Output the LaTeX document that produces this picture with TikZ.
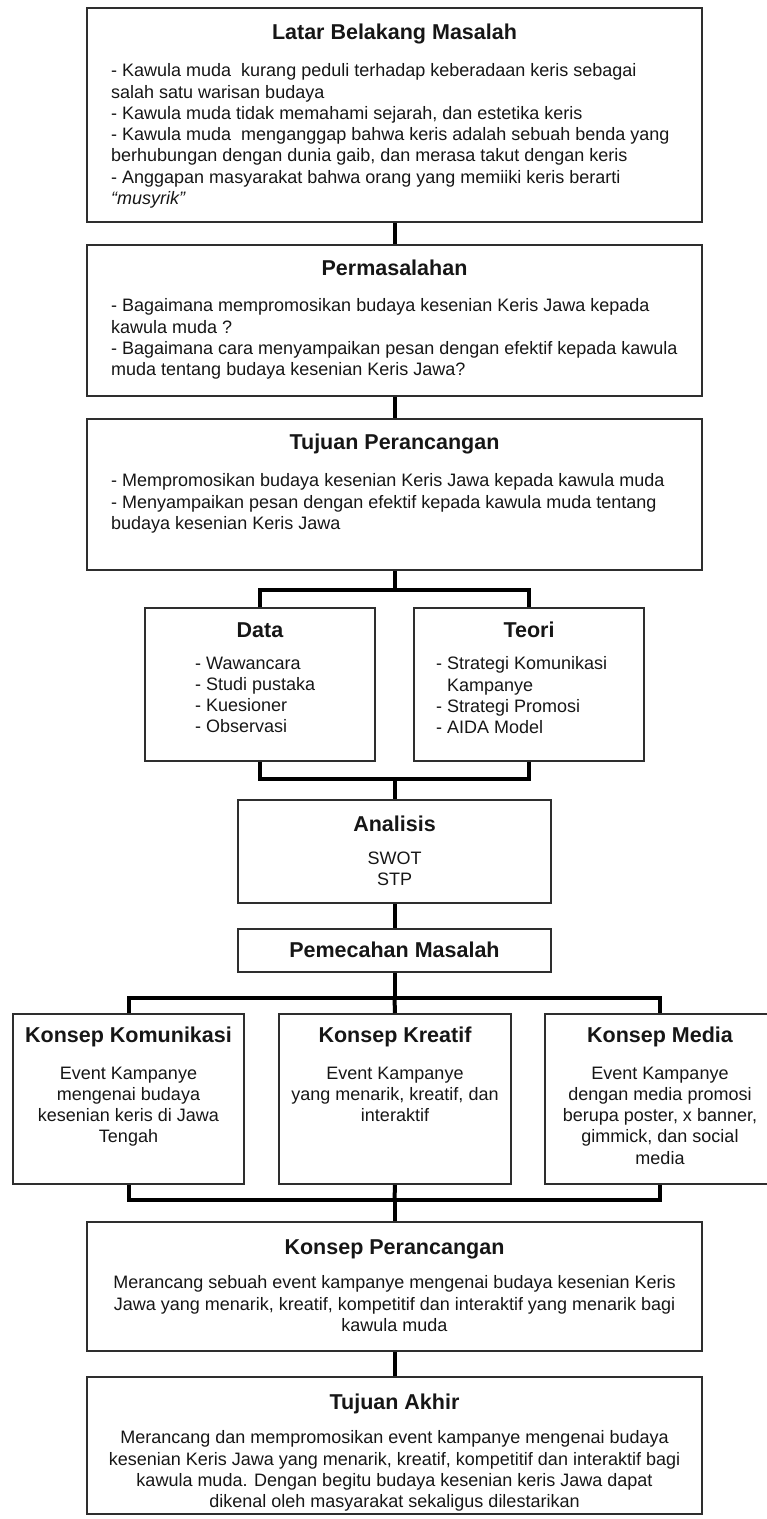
\documentclass[tikz,border=0pt]{standalone}
\usepackage{fontspec}
\setmainfont{Liberation Sans}
\usetikzlibrary{positioning,calc}

\definecolor{framegray}{HTML}{2E2E2E}
\definecolor{inkblack}{HTML}{161616}

\tikzset{
  panel/.style={draw=framegray, line width=2bp, inner sep=0pt, anchor=north},
  heading/.style={font=\fontsize{21.5bp}{24bp}\selectfont\bfseries, text=inkblack, inner sep=0pt, anchor=base},
  bodytext/.style={font=\fontsize{18bp}{21.3bp}\selectfont, text=inkblack, inner sep=0pt, align=left, anchor=north west},
  bodymid/.style={bodytext, align=center, anchor=north},
  link/.style={draw=black, line width=4bp, line join=miter}
}

\begin{document}
\begin{tikzpicture}[x=1bp, y=-1bp]
\useasboundingbox (0,0) rectangle (766,1519);

% Main column boxes
\node[panel, minimum width=615bp, minimum height=214bp] (latar) at (394.5,7) {};
\node[panel, minimum width=615bp, minimum height=151bp] (masalah) at (394.5,244) {};
\node[panel, minimum width=615bp, minimum height=151bp] (tujuan) at (394.5,418) {};

% Data and theory
\node[panel, minimum width=230bp, minimum height=153bp] (data) at (260,607) {};
\node[panel, minimum width=230bp, minimum height=153bp] (teori) at (529,607) {};

% Analysis and solution
\node[panel, minimum width=313bp, minimum height=103bp] (analisis) at (394.5,799) {};
\node[panel, minimum width=313bp, minimum height=43bp] (pemecahan) at (394.5,928) {};

% Three concepts
\node[panel, minimum width=231bp, minimum height=170bp] (komunikasi) at (128.5,1013) {};
\node[panel, minimum width=232bp, minimum height=170bp] (kreatif) at (395,1013) {};
\node[panel, minimum width=230bp, minimum height=170bp] (media) at (660,1013) {};

% Final boxes
\node[panel, minimum width=615bp, minimum height=129bp] (perancangan) at (394.5,1221) {};
\node[panel, minimum width=615bp, minimum height=137bp] (akhir) at (394.5,1376) {};

% Titles
\node[heading] (latarT) at (394.5,39.7) {Latar Belakang Masalah};
\node[heading] (masalahT) at (394.5,275.7) {Permasalahan};
\node[heading] (tujuanT) at (394.5,449.7) {Tujuan Perancangan};
\node[heading] (dataT) at (260,637.7) {Data};
\node[heading] (teoriT) at (529,637.7) {Teori};
\node[heading] (analisisT) at (394.5,831.7) {Analisis};
\node[heading] (pemecahanT) at (394.5,957.7) {Pemecahan Masalah};
\node[heading] (komunikasiT) at (128.5,1042.7) {Konsep Komunikasi};
\node[heading] (kreatifT) at (395,1042.7) {Konsep Kreatif};
\node[heading] (mediaT) at (660,1042.7) {Konsep Media};
\node[heading] (perancanganT) at (394.5,1254.7) {Konsep Perancangan};
\node[heading] (akhirT) at (394.5,1409.7) {Tujuan Akhir};

% Body texts
\node[bodytext] (latarB) at (111,63.5) {- Kawula muda\ \ kurang peduli terhadap keberadaan keris sebagai\\
salah satu warisan budaya\\
- Kawula muda tidak memahami sejarah, dan estetika keris\\
- Kawula muda\ \ menganggap bahwa keris adalah sebuah benda yang\\
berhubungan dengan dunia gaib, dan merasa takut dengan keris\\
- Anggapan masyarakat bahwa orang yang memiiki keris berarti\\
\textit{“musyrik”}};
\node[bodytext] (masalahB) at (111,298.5) {- Bagaimana mempromosikan budaya kesenian Keris Jawa kepada\\
kawula muda ?\\
- Bagaimana cara menyampaikan pesan dengan efektif kepada kawula\\
muda tentang budaya kesenian Keris Jawa?};
\node[bodytext] (tujuanB) at (111,473.5) {- Mempromosikan budaya kesenian Keris Jawa kepada kawula muda\\
- Menyampaikan pesan dengan efektif kepada kawula muda tentang\\
budaya kesenian Keris Jawa};
\node[bodytext] (dataB) at (195,656.5) {- Wawancara\\- Studi pustaka\\- Kuesioner\\- Observasi};
\node[bodytext] (teoriB) at (436,656.5) {- Strategi Komunikasi\\\hphantom{- }Kampanye\\- Strategi Promosi\\- AIDA Model};
\node[bodymid] (analisisB) at (394.5,851.5) {SWOT\\STP};
\node[bodymid] (komunikasiB) at (128.5,1066.5) {Event Kampanye\\mengenai budaya\\kesenian keris di Jawa\\Tengah};
\node[bodymid] (kreatifB) at (395,1066.5) {Event Kampanye\\yang menarik, kreatif, dan\\interaktif};
\node[bodymid] (mediaB) at (660,1066.5) {Event Kampanye\\dengan media promosi\\berupa poster, x banner,\\gimmick, dan social\\media};
\node[bodymid] (perancanganB) at (394.5,1275.5) {Merancang sebuah event kampanye mengenai budaya kesenian Keris\\
Jawa yang menarik, kreatif, kompetitif dan interaktif yang menarik bagi\\
kawula muda};
\node[bodymid] (akhirB) at (394.5,1430.5) {Merancang dan mempromosikan event kampanye mengenai budaya\\
kesenian Keris Jawa yang menarik, kreatif, kompetitif dan interaktif bagi\\
kawula muda. Dengan begitu budaya kesenian keris Jawa dapat\\
dikenal oleh masyarakat sekaligus dilestarikan};

% Junction points
\coordinate (split1) at (394.5,590);
\coordinate (join1) at (394.5,779);
\coordinate (split2) at (394.5,998);
\coordinate (join2) at (394.5,1200);

% Connectors
\draw[link] (latar.south) -- (masalah.north);
\draw[link] (masalah.south) -- (tujuan.north);
\draw[link] (tujuan.south) -- (split1);
\draw[link] (data.north) |- (split1) -| (teori.north);
\draw[link] (data.south) |- (join1) -| (teori.south);
\draw[link] (join1) -- (analisis.north);
\draw[link] (analisis.south) -- (pemecahan.north);
\draw[link] (pemecahan.south) -- (split2);
\draw[link] (komunikasi.north) |- (split2) -| (media.north);
\draw[link] (split2) -- (kreatif.north);
\draw[link] (komunikasi.south) |- (join2) -| (media.south);
\draw[link] (kreatif.south) -- (join2);
\draw[link] (join2) -- (perancangan.north);
\draw[link] (perancangan.south) -- (akhir.north);

\end{tikzpicture}
\end{document}
